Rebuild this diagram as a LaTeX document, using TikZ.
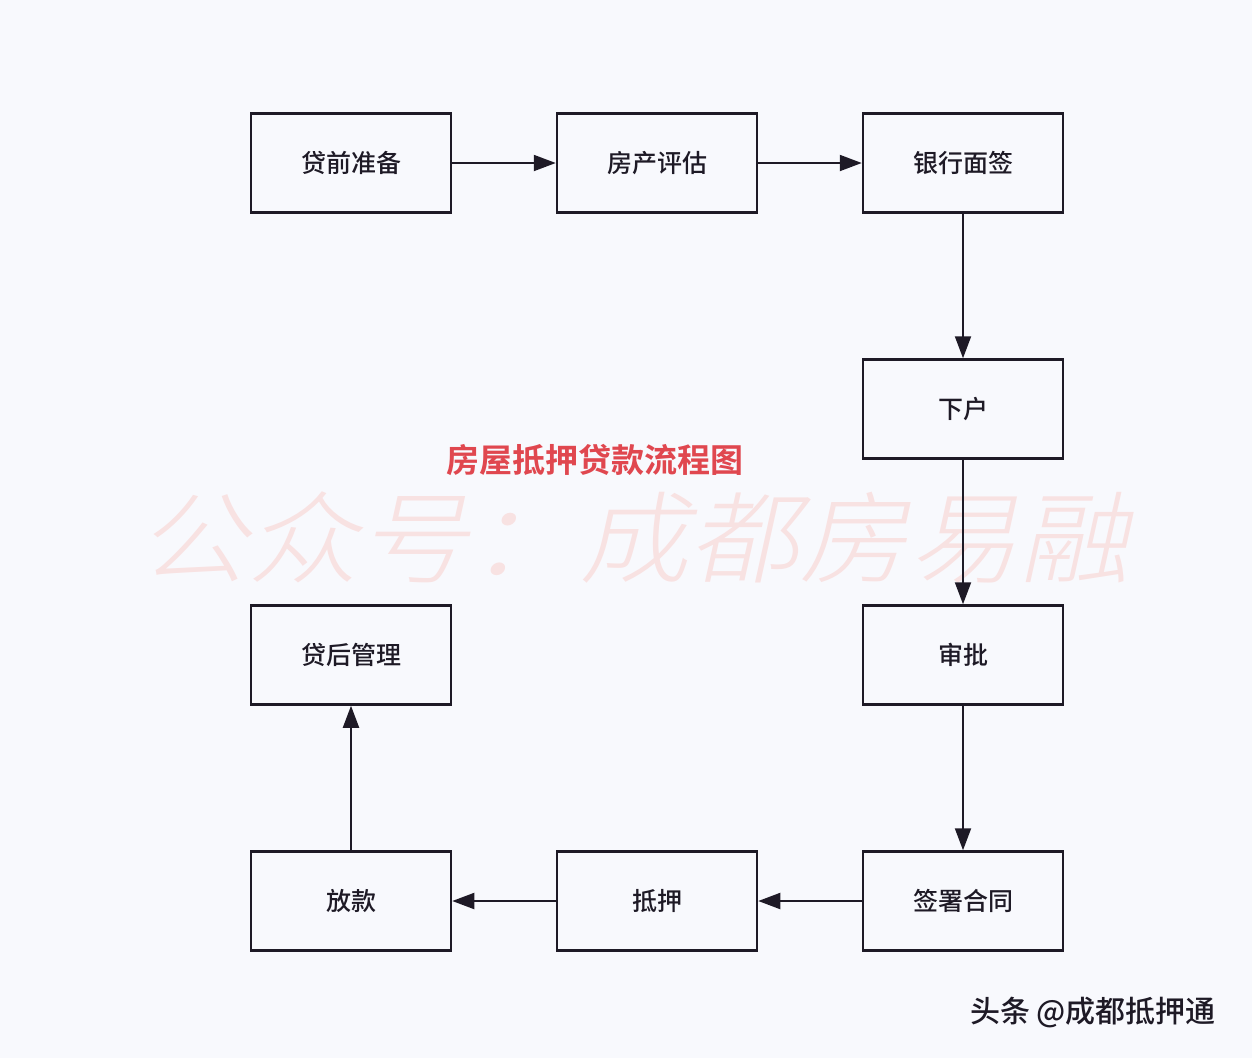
\documentclass[tikz,border=0pt]{standalone}
\usepackage{fontspec}
\usepackage{tikz}
\usetikzlibrary{arrows.meta}
\newfontfamily\cjk{Noto Sans CJK SC Medium}
\newfontfamily\cjkbold{Noto Sans CJK SC Bold}
\newfontfamily\cjkmark[FakeSlant=0.2]{Noto Sans CJK SC Light}
\definecolor{LoanBack}{HTML}{F8F9FD}
\definecolor{LoanLine}{HTML}{1E1A26}
\definecolor{LoanTitle}{HTML}{E0474F}
\definecolor{LoanMark}{HTML}{F8E2E2}
\tikzset{
  stepbox/.style={draw=LoanLine,line width=2.5pt,fill=LoanBack,minimum width=200pt,
    minimum height=99pt,font=\cjk\fontsize{25}{28}\selectfont,text=LoanLine},
  flow/.style={draw=LoanLine,line width=2pt,-{Triangle[length=22pt,width=16pt]}}
}
\begin{document}
\begin{tikzpicture}[x=1pt,y=-1pt]
  \fill[LoanBack] (0,0) rectangle (1252,1058);
  \useasboundingbox (0,0) rectangle (1252,1058);
  % watermark
  \node[text=LoanMark,font=\cjkmark\fontsize{100}{104}\selectfont,xscale=1.1] (mark) at (634,538)
    {公众号：成都房易融};
  % steps
  \node[stepbox] (prep) at (351,163) {贷前准备};
  \node[stepbox] (eval) at (657,163) {房产评估};
  \node[stepbox] (sign) at (963,163) {银行面签};
  \node[stepbox] (down) at (963,409) {下户};
  \node[stepbox] (audit) at (963,655) {审批};
  \node[stepbox] (contract) at (963,901) {签署合同};
  \node[stepbox] (pledge) at (657,901) {抵押};
  \node[stepbox] (loan) at (351,901) {放款};
  \node[stepbox] (after) at (351,655) {贷后管理};
  % connectors
  \draw[flow] (prep) -- (eval);
  \draw[flow] (eval) -- (sign);
  \draw[flow] (sign) -- (down);
  \draw[flow] (down) -- (audit);
  \draw[flow] (audit) -- (contract);
  \draw[flow] (contract) -- (pledge);
  \draw[flow] (pledge) -- (loan);
  \draw[flow] (loan) -- (after);
  % title and credit
  \node[text=LoanTitle,font=\cjkbold\fontsize{33}{36}\selectfont] (title) at (595,460)
    {房屋抵押贷款流程图};
  \node[text=LoanLine,font=\cjk\fontsize{30}{32}\selectfont] (credit) at (1093,1013)
    {头条 @成都抵押通};
\end{tikzpicture}
\end{document}
